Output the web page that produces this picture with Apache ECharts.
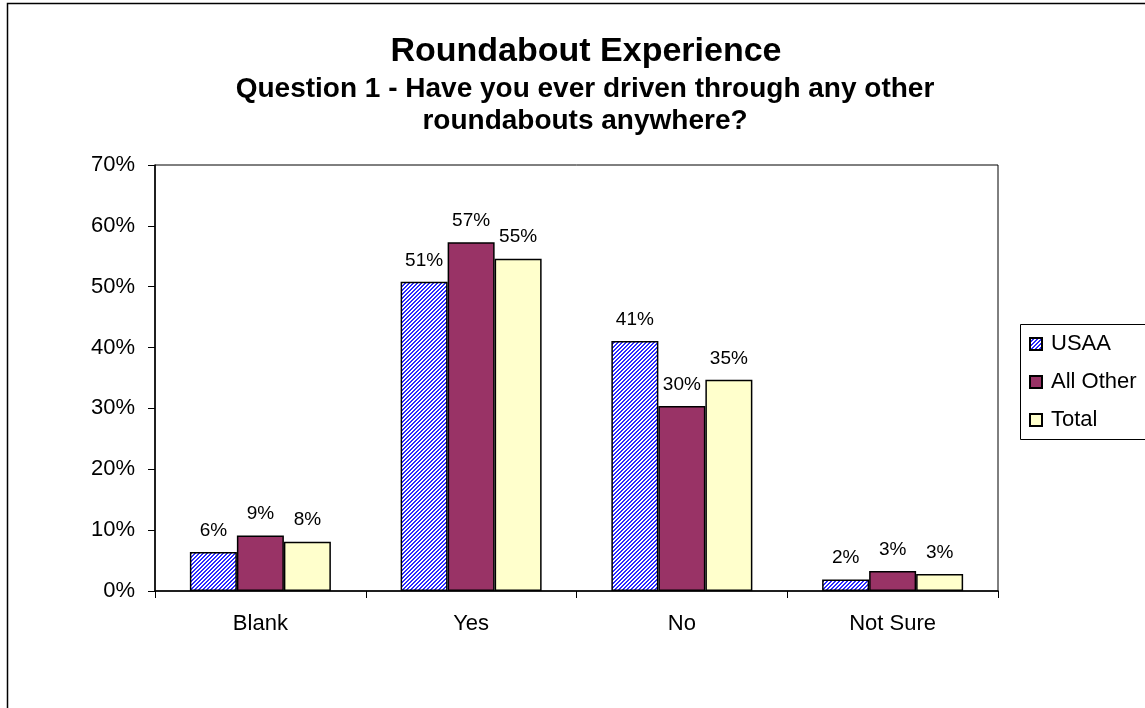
<!DOCTYPE html>
<html>
<head>
<meta charset="utf-8">
<script src="https://cdn.jsdelivr.net/npm/echarts@6/dist/echarts.min.js"></script>
<style>
  html, body { margin: 0; padding: 0; background: #fff; }
  #chart { width: 1145px; height: 708px; }
</style>
</head>
<body>
<div id="chart"></div>
<script>
var categories = ['Blank', 'Yes', 'No', 'Not Sure'];
var seriesNames = ['USAA', 'All Other', 'Total'];
var usaaValues = [6.4, 50.8, 41.1, 1.9];
var allOtherValues = [9.1, 57.3, 30.4, 3.3];
var totalValues = [8.1, 54.6, 34.7, 2.8];
var yTicks = [0, 10, 20, 30, 40, 50, 60, 70];

// blue diagonal hatch for the USAA bars
function hatchPattern() {
    var c = document.createElement('canvas');
    c.width = 4;
    c.height = 4;
    var ctx = c.getContext('2d');
    ctx.fillStyle = '#ffffff';
    ctx.fillRect(0, 0, 4, 4);
    ctx.fillStyle = '#2a2aff';
    for (var i = 0; i < 4; i++) {
        ctx.fillRect(i, 3 - i, 1, 1);
        ctx.fillRect((i + 1) % 4, 3 - i, 1, 1);
    }
    return c;
}

var chart = echarts.init(document.getElementById('chart'));
var font = 'Liberation Sans, Arial, sans-serif';

function barSeries(name, values, color) {
    return {
        name: name,
        type: 'bar',
        data: values,
        barWidth: 47,
        barGap: '0%',
        itemStyle: {
            color: color,
            borderColor: '#000',
            borderWidth: 1.5
        },
        label: {
            show: true,
            position: 'top',
            distance: 12,
            fontFamily: font,
            fontSize: 19,
            color: '#000',
            formatter: function (p) {
                return Math.round(p.value) + '%';
            }
        }
    };
}

var options = {
    backgroundColor: '#fff',
    animation: false,
    title: [
        {
            text: 'Roundabout Experience',
            left: 581,
            top: 30,
            textAlign: 'center',
            textStyle: { fontFamily: font, fontSize: 34, fontWeight: 'bold', color: '#000' }
        },
        {
            text: 'Question 1 - Have you ever driven through any other\nroundabouts anywhere?',
            left: 580,
            top: 68,
            textAlign: 'center',
            textStyle: { fontFamily: font, fontSize: 28, fontWeight: 'bold', color: '#000', lineHeight: 32 }
        }
    ],
    legend: {
        orient: 'vertical',
        left: 1029,
        top: 333,
        padding: 0,
        data: seriesNames,
        icon: 'rect',
        itemWidth: 12,
        itemHeight: 12,
        itemGap: 16,
        textStyle: { fontFamily: font, fontSize: 22, color: '#000', padding: [0, 0, 0, 4] }
    },
    grid: {
        left: 155,
        right: 147,
        top: 165,
        bottom: 117,
        show: true,
        borderColor: '#000',
        borderWidth: 1
    },
    xAxis: {
        type: 'category',
        data: categories,
        axisLine: { lineStyle: { color: '#000', width: 1.5 } },
        axisTick: { show: true, length: 7, lineStyle: { color: '#000' } },
        axisLabel: { fontFamily: font, fontSize: 22, color: '#000', margin: 22 }
    },
    yAxis: {
        type: 'value',
        min: yTicks[0],
        max: yTicks[yTicks.length - 1],
        interval: 10,
        splitLine: { show: false },
        axisLine: { show: true, lineStyle: { color: '#000', width: 1.5 } },
        axisTick: { show: true, length: 7, lineStyle: { color: '#000' } },
        axisLabel: { fontFamily: font, fontSize: 22, color: '#000', margin: 20, formatter: '{value}%' }
    },
    graphic: [
        {
            // outer chart frame, runs off the right and bottom edges
            type: 'rect',
            shape: { x: 7.5, y: 3.5, width: 1200, height: 800 },
            style: { fill: 'none', stroke: '#000', lineWidth: 1.5 },
            silent: true,
            z: -1
        },
        {
            // legend frame
            type: 'rect',
            shape: { x: 1020.5, y: 324.5, width: 140, height: 115 },
            style: { fill: 'none', stroke: '#000', lineWidth: 1 },
            silent: true,
            z: -1
        }
    ],
    series: [
        barSeries(seriesNames[0], usaaValues, { image: hatchPattern(), repeat: 'repeat' }),
        barSeries(seriesNames[1], allOtherValues, '#993366'),
        barSeries(seriesNames[2], totalValues, '#ffffcc')
    ]
};

chart.setOption(options);
window.addEventListener('resize', function () {
    chart.resize();
});
</script>
</body>
</html>
